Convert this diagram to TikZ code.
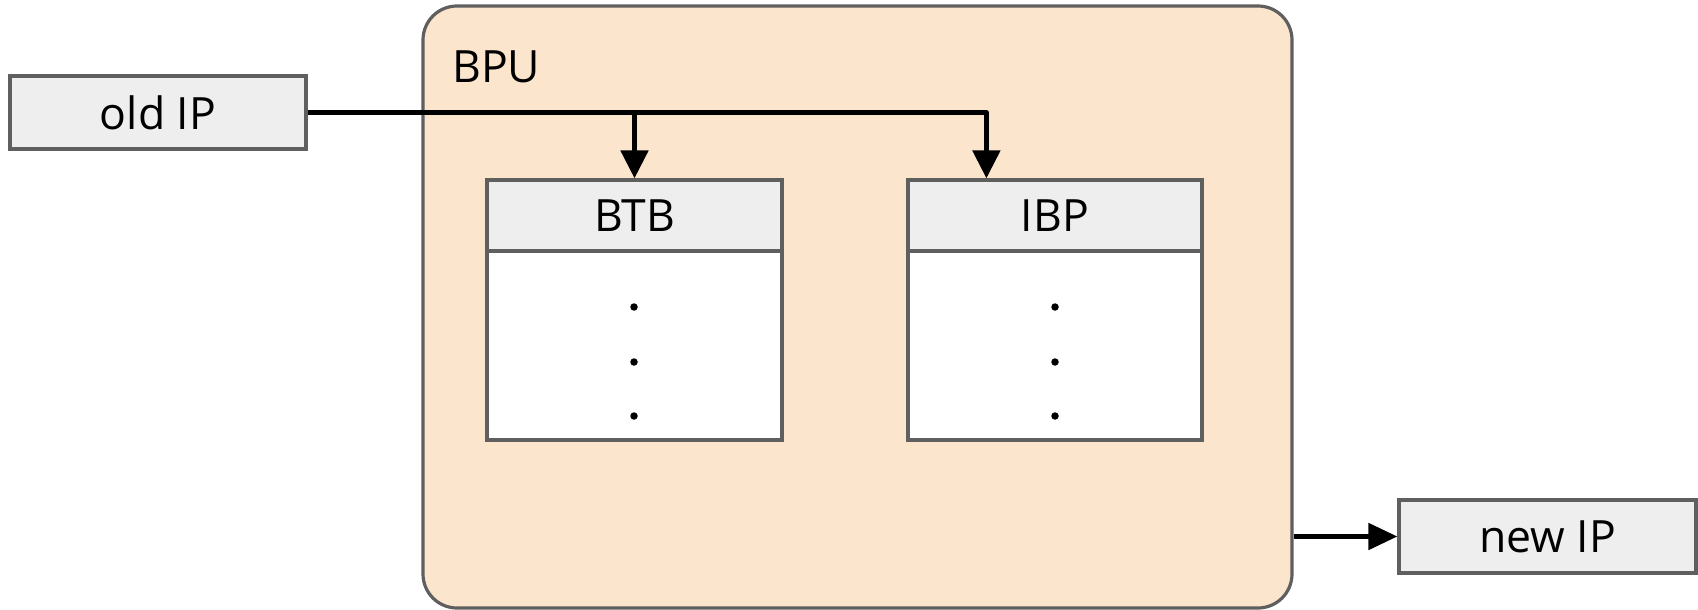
\documentclass[tikz,border=0pt]{standalone}
\usepackage{fontspec}
\setmainfont{Open Sans}
\usetikzlibrary{arrows.meta}
\definecolor{peach}{HTML}{FCE5CD}
\definecolor{edgegray}{HTML}{5F5F5F}
\definecolor{boxgray}{HTML}{EEEEEE}
\tikzset{
  label font/.style={font=\fontsize{44.5}{52}\selectfont},
  box/.style={draw=edgegray, line width=3.2pt, fill=boxgray, inner sep=0pt,
    minimum height=73pt, label font},
  tablehead/.style={draw=edgegray, line width=3.2pt, fill=boxgray, inner sep=0pt,
    minimum width=295pt, minimum height=71pt, label font},
  tablebody/.style={draw=edgegray, line width=3.2pt, fill=white, inner sep=0pt,
    minimum width=295pt, minimum height=189pt},
  unit/.style={draw=edgegray, line width=3.2pt, fill=peach, rounded corners=34pt,
    minimum width=869pt, minimum height=602pt, inner sep=0pt},
  dot/.style={circle, fill=black, inner sep=0pt, minimum size=7.5pt},
  conn/.style={line width=5pt, draw=black, line join=round,
    -{Triangle[length=28pt,width=27pt]}},
}
\begin{document}
\begin{tikzpicture}[x=1pt,y=-1pt]
  \useasboundingbox (0,0) rectangle (1698,610);

  % branch prediction unit
  \node[unit] (bpu) at (857.5,307) {};
  \node[anchor=base west, label font, inner sep=0pt] (bpulabel) at (452,82) {BPU};

  % inputs and outputs
  \node[box, minimum width=296pt] (old) at (158,112.5) {old IP};
  \node[box, minimum width=297pt] (new) at (1547.5,536.5) {new IP};

  % branch target buffer
  \node[tablebody] (btbbody) at (634.5,345.5) {};
  \node[tablehead] (btbhead) at (634.5,215.5) {BTB};
  \node[dot] (btbd1) at (634,307) {};
  \node[dot] (btbd2) at (634,362) {};
  \node[dot] (btbd3) at (634,416) {};

  % indirect branch predictor
  \node[tablebody, minimum width=294pt] (ibpbody) at (1055,345.5) {};
  \node[tablehead, minimum width=294pt] (ibphead) at (1055,215.5) {IBP};
  \node[dot] (ibpd1) at (1055,307) {};
  \node[dot] (ibpd2) at (1055,362) {};
  \node[dot] (ibpd3) at (1055,416) {};

  % connectors
  \coordinate (btbin) at (btbhead.north);
  \coordinate (ibpin) at ([xshift=80pt]ibphead.north west);
  \draw[conn] (old.east) -| (ibpin);
  \draw[conn] (old.east -| btbin) -- (btbin);
  \draw[conn, -{Triangle[length=29pt,width=26pt]}] (bpu.east |- new.west) -- (new.west);
\end{tikzpicture}
\end{document}
